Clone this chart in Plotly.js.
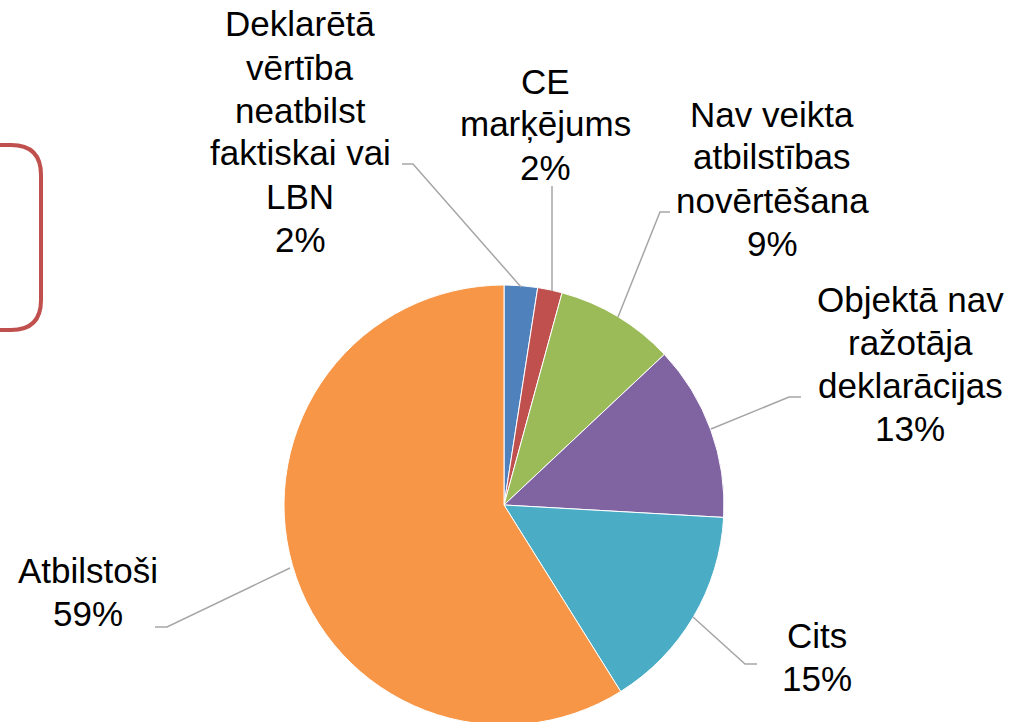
<!DOCTYPE html>
<html>
<head>
<meta charset="utf-8">
<script src="https://cdn.plot.ly/plotly-3.0.1.min.js"></script>
<style>
html, body { margin: 0; padding: 0; overflow: hidden; background: #fff; }
#chart { width: 1013px; height: 730px; }
</style>
</head>
<body>
<div id="chart"></div>
<script>
// Data (clockwise from 12 o'clock)
var categories = [
  "Deklarētā\nvērtība\nneatbilst\nfaktiskai vai\nLBN",
  "CE\nmarķējums",
  "Nav veikta\natbilstības\nnovērtēšana",
  "Objektā nav\nražotāja\ndeklarācijas",
  "Cits",
  "Atbilstoši"
];
var values = [2.45, 1.8, 8.75, 12.9, 15.2, 58.9];
var colors = ["#4f81bd", "#c0504d", "#9bbb59", "#8064a2", "#4bacc6", "#f79646"];

var W = 1013, H = 730;
function px(x) { return x / W; }
function py(y) { return (H - y) / H; }

var total = values.reduce(function (a, b) { return a + b; }, 0);
var labelLines = categories.map(function (c, i) {
  return c.split("\n").concat([Math.round(values[i] / total * 100) + "%"]);
});

// label block: centre x, first line centre y (pixels); leader line paths (pixels)
var labelPos = [[300, 24], [545, 81], [772, 114], [910, 299], [817, 635], [88, 570]];
var lineGap = 43;
var leaders = [
  [[402, 164], [413, 164], [521, 287]],
  [[552, 186], [552, 291]],
  [[670, 212], [660, 212], [618, 317]],
  [[801, 397], [789, 397], [711, 429]],
  [[757, 664], [745, 664], [693, 617]],
  [[155, 627], [167, 627], [290, 568]]
];

var annotations = [];
labelLines.forEach(function (lines, i) {
  lines.forEach(function (t, k) {
    annotations.push({
      xref: "paper", yref: "paper",
      x: px(labelPos[i][0]), y: py(labelPos[i][1] + k * lineGap),
      xanchor: "center", yanchor: "middle", align: "center",
      text: t, showarrow: false,
      font: { family: "Liberation Sans, Arial, sans-serif", size: 35, color: "#000" }
    });
  });
});

var shapes = leaders.map(function (pts) {
  var d = pts.map(function (p, k) { return (k ? "L" : "M") + px(p[0]) + "," + py(p[1]); }).join(" ");
  return { type: "path", xref: "paper", yref: "paper", path: d,
           line: { color: "#a6a6a6", width: 1.5 } };
});
// red rounded frame on the left
var r = 30, x1 = 41, y1 = 145, y2 = 330;
shapes.push({
  type: "path", xref: "paper", yref: "paper",
  path: "M" + px(-20) + "," + py(y1) + " L" + px(x1 - r) + "," + py(y1) +
        " Q" + px(x1) + "," + py(y1) + " " + px(x1) + "," + py(y1 + r) +
        " L" + px(x1) + "," + py(y2 - r) +
        " Q" + px(x1) + "," + py(y2) + " " + px(x1 - r) + "," + py(y2) +
        " L" + px(-20) + "," + py(y2),
  line: { color: "#c0504d", width: 4 }
});

var trace = {
  type: "pie",
  labels: categories.map(function (c) { return c.replace(/\n/g, " "); }),
  values: values,
  sort: false,
  direction: "clockwise",
  rotation: 0,
  marker: { colors: colors, line: { color: "#ffffff", width: 1 } },
  textinfo: "none",
  hoverinfo: "none",
  showlegend: false,
  domain: { x: [px(284), px(724)], y: [py(725), py(285)] }
};

var layout = {
  width: W, height: H,
  margin: { l: 0, r: 0, t: 0, b: 0 },
  paper_bgcolor: "#ffffff",
  showlegend: false,
  annotations: annotations,
  shapes: shapes
};

Plotly.newPlot("chart", [trace], layout, { displayModeBar: false, staticPlot: true });
</script>
</body>
</html>
